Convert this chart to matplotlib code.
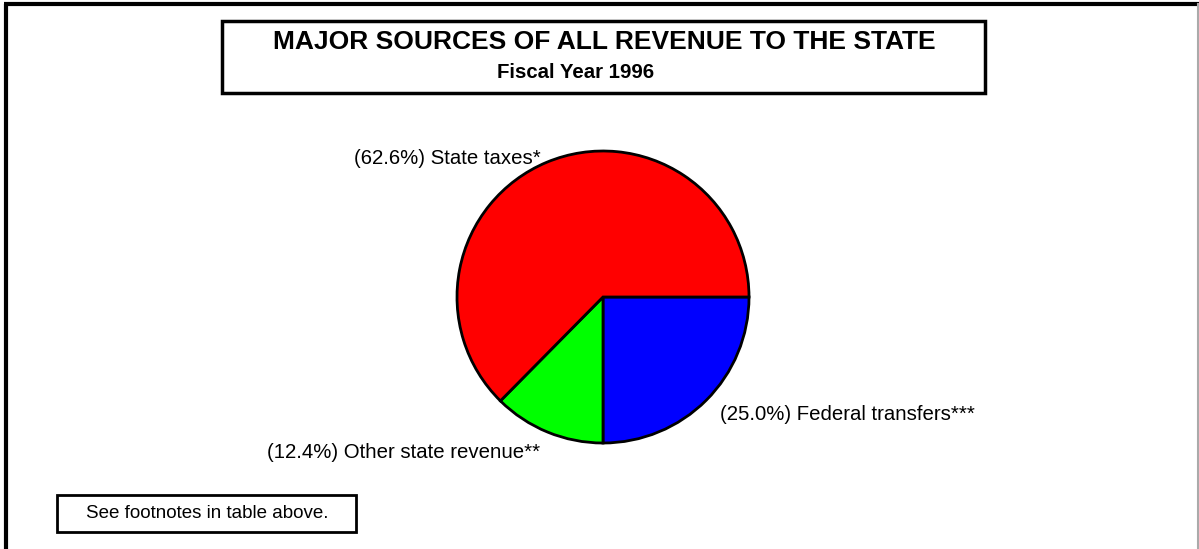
import matplotlib
matplotlib.use("Agg")
import matplotlib.pyplot as plt
from matplotlib.patches import Rectangle

# Data
categories = ["Federal transfers***", "Other state revenue**", "State taxes*"]
shares = [25.0, 12.4, 62.6]
colors = ["#0000ff", "#00ff00", "#ff0000"]
title = "MAJOR SOURCES OF ALL REVENUE TO THE STATE"
subtitle = "Fiscal Year 1996"
footnote = "See footnotes in table above."

W, H = 1199, 549
fig = plt.figure(figsize=(W / 100, H / 100), dpi=100)
plt.rcParams['font.family'] = ['Liberation Sans', 'DejaVu Sans']

# Overlay axes in pixel coordinates (y down)
ov = fig.add_axes([0, 0, 1, 1])
ov.set_xlim(0, W)
ov.set_ylim(H, 0)
ov.axis("off")

# outer frame (top & left dark, right light)
ov.plot([6, 6], [H, 4], color="black", lw=3, solid_capstyle="butt")
ov.plot([4, W], [4, 4], color="black", lw=3, solid_capstyle="butt")
ov.plot([W - 1.5, W - 1.5], [4, H], color="#aaaaaa", lw=1.5)

# title box
ov.add_patch(Rectangle((222, 21), 763, 72, fill=False, ec="black", lw=2.5))
ov.text(604, 42, title, ha="center", va="center", fontsize=19, fontweight="bold")
ov.text(576, 72, subtitle, ha="center", va="center", fontsize=14.7, fontweight="bold")

# footnote box
ov.add_patch(Rectangle((57, 495), 299, 37, fill=False, ec="black", lw=2))
ov.text(207, 514, footnote, ha="center", va="center", fontsize=13.5)

# Pie
cx, cy, r = 603, 297, 146
pax = fig.add_axes([(cx - r) / W, (H - cy - r) / H, 2 * r / W, 2 * r / H])
pax.pie(shares, colors=colors, startangle=0, counterclock=False,
        wedgeprops=dict(edgecolor="black", linewidth=2))
pax.set_xlim(-1, 1)
pax.set_ylim(-1, 1)
pax.set_aspect("auto")
pax.axis("off")

# Labels
label_pos = [(720, 415, "left"), (540, 452, "right"), (541, 158, "right")]
for (x, y, ha), cat, s in zip(label_pos, categories, shares):
    ov.text(x, y, f"({s:.1f}%) {cat}", ha=ha, va="center", fontsize=14.7)

fig.savefig("out.png", dpi=100)
